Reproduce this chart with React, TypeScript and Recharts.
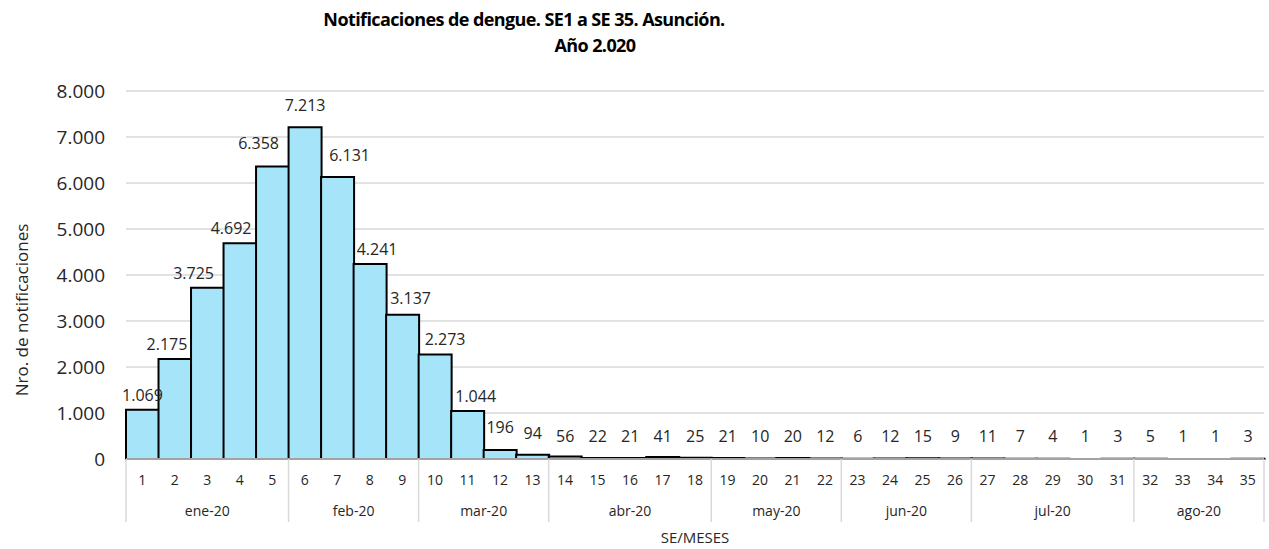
import { BarChart, Bar, XAxis, YAxis, CartesianGrid, LabelList } from 'recharts';

const semanas = [
  '1', '2', '3', '4', '5', '6', '7', '8', '9', '10', '11', '12', '13', '14', '15', '16', '17', '18',
  '19', '20', '21', '22', '23', '24', '25', '26', '27', '28', '29', '30', '31', '32', '33', '34', '35',
];
const notificaciones = [
  1069, 2175, 3725, 4692, 6358, 7213, 6131, 4241, 3137, 2273, 1044, 196, 94, 56, 22, 21, 41, 25,
  21, 10, 20, 12, 6, 12, 15, 9, 11, 7, 4, 1, 3, 5, 1, 1, 3,
];
const meses = ['ene-20', 'feb-20', 'mar-20', 'abr-20', 'may-20', 'jun-20', 'jul-20', 'ago-20'];
const semanasPorMes = [5, 4, 4, 5, 4, 4, 5, 4];
const yTicks = [0, 1000, 2000, 3000, 4000, 5000, 6000, 7000, 8000];

const data = semanas.map((se, i) => ({ se, valor: notificaciones[i] }));

// layout
const W = 1269;
const H = 549;
const PLOT_LEFT = 126;
const PLOT_RIGHT = 1264;
const PLOT_TOP = 91;
const PLOT_BOTTOM = 459;
const BAND = (PLOT_RIGHT - PLOT_LEFT) / semanas.length;
const FONT = '"Open Sans", "Noto Sans", sans-serif';
const TEXT = '#262626';

// etiquetas movidas a mano en el original (dx, dy) por semana
const ajusteEtiqueta: Record<number, [number, number]> = {
  1: [-8, 0],
  2: [-14, 0],
  3: [-9, 0],
  4: [-14, -9],
  5: [0, -7],
  6: [12, -7],
  7: [7, 0],
  8: [8, -2],
  9: [10, 0],
  10: [8, 0],
  11: [0, -8],
  12: [0, -3],
};

// primer indice de cada mes
const inicioMes: number[] = [];
semanasPorMes.reduce((acc, n) => {
  inicioMes.push(acc);
  return acc + n;
}, 0);

const fmt = (v: number) => v.toString().replace(/\B(?=(\d{3})+(?!\d))/g, '.');

const SemanaTick = (props: any) => {
  const { x, payload } = props;
  const i = payload.index;
  const m = inicioMes.indexOf(i);
  const left = x - BAND / 2;
  return (
    <g>
      <text x={x} y={479} textAnchor="middle" dominantBaseline="central" fontSize={14} fill={TEXT} fontFamily={FONT}>
        {payload.value}
      </text>
      {m >= 0 && (
        <>
          <line x1={left} x2={left} y1={PLOT_BOTTOM} y2={522} stroke="#d9d9d9" strokeWidth={1.5} />
          <text
            x={left + (semanasPorMes[m] * BAND) / 2}
            y={510}
            textAnchor="middle"
            dominantBaseline="central"
            fontSize={14}
            fill={TEXT}
            fontFamily={FONT}
          >
            {meses[m]}
          </text>
        </>
      )}
      {i === semanas.length - 1 && (
        <line x1={x + BAND / 2} x2={x + BAND / 2} y1={PLOT_BOTTOM} y2={522} stroke="#d9d9d9" strokeWidth={1.5} />
      )}
    </g>
  );
};

const renderValor = (props: any) => {
  const { x, y, width, value, index } = props;
  const [dx, dy] = ajusteEtiqueta[index] || [0, 0];
  const cy = Math.min(y - 15, 436) + dy;
  return (
    <text
      x={x + width / 2 + dx}
      y={cy}
      textAnchor="middle"
      dominantBaseline="central"
      fontSize={16}
      fill={TEXT}
      fontFamily={FONT}
    >
      {fmt(value)}
    </text>
  );
};

const tituloStyle: React.CSSProperties = {
  position: 'absolute',
  left: 0,
  textAlign: 'center',
  fontSize: 18,
  letterSpacing: -0.6,
  fontWeight: 'bold',
  color: '#000',
  lineHeight: '26px',
  whiteSpace: 'nowrap',
};

export default function App() {
  return (
    <div style={{ position: 'absolute', left: 0, top: 0, width: W, height: H, background: '#fff', fontFamily: FONT }}>
      <div style={{ ...tituloStyle, width: 1048, top: 6 }}>Notificaciones de dengue. SE1 a SE 35. Asunción.</div>
      <div style={{ ...tituloStyle, width: 1190, top: 32 }}>Año 2.020</div>
      <BarChart
        width={W}
        height={H}
        data={data}
        margin={{ top: PLOT_TOP, right: W - PLOT_RIGHT, bottom: 20, left: 0 }}
        barCategoryGap={0}
      >
        <CartesianGrid vertical={false} stroke="#d9d9d9" strokeWidth={1.5} />
        <YAxis
          width={PLOT_LEFT}
          domain={[0, 8000]}
          ticks={yTicks}
          interval={0}
          axisLine={false}
          tickLine={false}
          tickSize={0}
          tickMargin={21}
          tickFormatter={fmt}
          tick={{ fontSize: 19, fill: TEXT, fontFamily: FONT }}
        />
        <XAxis
          dataKey="se"
          height={H - PLOT_BOTTOM - 20}
          interval={0}
          tickLine={false}
          axisLine={{ stroke: '#d9d9d9', strokeWidth: 1.5 }}
          tick={<SemanaTick />}
          label={{
            value: 'SE/MESES',
            position: 'insideBottom',
            offset: -14,
            style: { fontSize: 15, fill: TEXT, fontFamily: FONT },
          }}
        />
        <Bar dataKey="valor" fill="#a6e4fa" stroke="#000" strokeWidth={2} isAnimationActive={false}>
          <LabelList dataKey="valor" content={renderValor} />
        </Bar>
        <text
          x={21}
          y={310}
          transform="rotate(-90 21 310)"
          textAnchor="middle"
          dominantBaseline="central"
          fontSize={17}
          fill={TEXT}
          fontFamily={FONT}
        >
          Nro. de notificaciones
        </text>
      </BarChart>
    </div>
  );
}
